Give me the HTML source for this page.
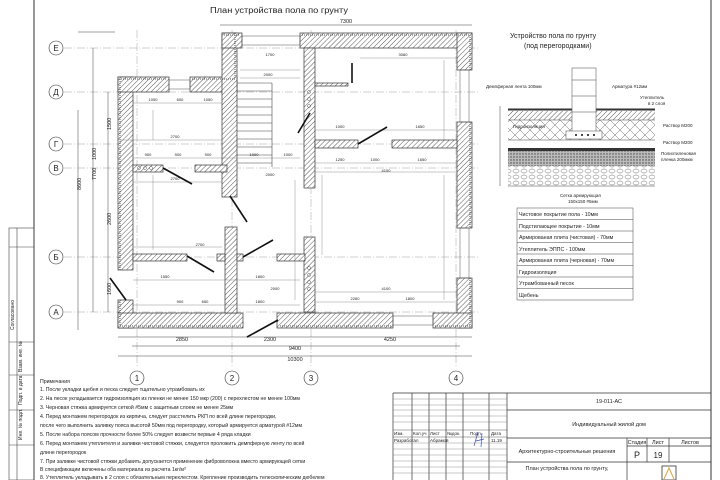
<!DOCTYPE html>
<html><head><meta charset="utf-8"><style>
html,body{margin:0;padding:0;background:#fff}
svg{display:block}
text{font-family:"Liberation Sans",sans-serif;fill:#222}
</style></head><body>
<svg width="720" height="480" viewBox="0 0 720 480" xmlns="http://www.w3.org/2000/svg">
<defs>
<pattern id="h" width="3.5" height="3.5" patternUnits="userSpaceOnUse" patternTransform="rotate(45)">
<rect width="3.5" height="3.5" fill="#fff"/><line x1="0" y1="0" x2="0" y2="3.5" stroke="#444" stroke-width="0.9"/></pattern>
<pattern id="x" width="10" height="10" patternUnits="userSpaceOnUse">
<rect width="10" height="10" fill="#fff"/><path d="M0 0L10 10M10 0L0 10" stroke="#666" stroke-width="0.5"/></pattern>
<pattern id="s" width="3" height="3" patternUnits="userSpaceOnUse">
<rect width="3" height="3" fill="#bbb"/><circle cx="1" cy="1" r="0.7" fill="#444"/></pattern>
<pattern id="g" width="8" height="6" patternUnits="userSpaceOnUse">
<rect width="8" height="6" fill="#fff"/><ellipse cx="4" cy="3" rx="3" ry="2" fill="none" stroke="#666" stroke-width="0.5"/></pattern>
</defs>
<rect width="720" height="480" fill="#fff"/>
<line x1="34" y1="0" x2="34" y2="480" stroke="#333" stroke-width="1"/>
<line x1="711" y1="0" x2="711" y2="480" stroke="#333" stroke-width="1"/>
<g stroke="#444" stroke-width="0.6" fill="none">
<rect x="9" y="228" width="25" height="252"/>
<line x1="17" y1="228" x2="17" y2="480"/>
<line x1="9" y1="247" x2="34" y2="247"/>
<line x1="9" y1="342" x2="34" y2="342"/>
<line x1="9" y1="375" x2="34" y2="375"/>
<line x1="9" y1="410" x2="34" y2="410"/>
<line x1="9" y1="445" x2="34" y2="445"/>
</g>
<text transform="translate(14,330) rotate(-90)" font-size="5">Согласовано</text>
<text transform="translate(22,372) rotate(-90)" font-size="5">Взам. инв. №</text>
<text transform="translate(22,405) rotate(-90)" font-size="5">Подп. и дата</text>
<text transform="translate(22,440) rotate(-90)" font-size="5">Инв. № подл.</text>

<text x="210" y="13" font-size="8" textLength="138" lengthAdjust="spacingAndGlyphs">План устройства пола по грунту</text>
<g stroke="#888" stroke-width="0.4" stroke-dasharray="8 2 1 2">
<line x1="64" y1="48" x2="480" y2="48"/><line x1="64" y1="92" x2="480" y2="92"/>
<line x1="64" y1="144" x2="480" y2="144"/><line x1="64" y1="168" x2="480" y2="168"/>
<line x1="64" y1="257" x2="480" y2="257"/><line x1="64" y1="312" x2="480" y2="312"/>
<line x1="137" y1="30" x2="137" y2="368"/><line x1="232" y1="30" x2="232" y2="368"/>
<line x1="311" y1="30" x2="311" y2="368"/><line x1="456" y1="30" x2="456" y2="368"/>
</g>
<g fill="#fff" stroke="#333" stroke-width="0.6">
<circle cx="56" cy="48" r="7"/><circle cx="56" cy="92" r="7"/><circle cx="56" cy="144" r="7"/>
<circle cx="56" cy="168" r="7"/><circle cx="56" cy="257" r="7"/><circle cx="56" cy="312" r="7"/>
<circle cx="137" cy="378" r="7"/><circle cx="232" cy="378" r="7"/><circle cx="311" cy="378" r="7"/><circle cx="456" cy="378" r="7"/>
</g>
<g font-size="8" text-anchor="middle">
<text x="56" y="51">Е</text><text x="56" y="95">Д</text><text x="56" y="147">Г</text>
<text x="56" y="171">В</text><text x="56" y="260">Б</text><text x="56" y="315">А</text>
<text x="137" y="381">1</text><text x="232" y="381">2</text><text x="311" y="381">3</text><text x="456" y="381">4</text>
</g>
<g stroke="#444" stroke-width="0.5">
<line x1="220" y1="25" x2="472" y2="25"/>
<line x1="78" y1="110" x2="78" y2="330"/><line x1="93" y1="48" x2="93" y2="312"/><line x1="108" y1="92" x2="108" y2="312"/>
<line x1="118" y1="337" x2="472" y2="337"/><line x1="132" y1="346" x2="460" y2="346"/><line x1="118" y1="356" x2="472" y2="356"/>
<line x1="78" y1="32" x2="115" y2="32"/>
</g>
<g font-size="5.5" text-anchor="middle">
<text x="346" y="23">7300</text><text x="182" y="341">2850</text><text x="270" y="341">2300</text><text x="390" y="341">4250</text>
<text x="295" y="350">9400</text><text x="295" y="361">10300</text>
</g>
<g font-size="5.5"><text transform="translate(81,190) rotate(-90)">8600</text><text transform="translate(96,180) rotate(-90)">7700</text>
<text transform="translate(96,160) rotate(-90)">1000</text><text transform="translate(111,130) rotate(-90)">1500</text>
<text transform="translate(111,225) rotate(-90)">2600</text><text transform="translate(111,295) rotate(-90)">1600</text></g>

<g fill="url(#h)" stroke="#333" stroke-width="0.7">
<rect x="118" y="77" width="15" height="193"/>
<rect x="118" y="77" width="51" height="15"/>
<rect x="190" y="77" width="47" height="15"/>
<rect x="222" y="33" width="15" height="164"/>
<rect x="222" y="33" width="20" height="15"/>
<rect x="300" y="33" width="172" height="15"/>
<rect x="457" y="33" width="15" height="37"/>
<rect x="457" y="122" width="15" height="106"/>
<rect x="457" y="278" width="15" height="50"/>
<rect x="304" y="48" width="11" height="140"/>
<rect x="304" y="237" width="11" height="75"/>
<rect x="315" y="140" width="43" height="8"/>
<rect x="392" y="140" width="65" height="8"/>
<rect x="118" y="300" width="15" height="28"/>
<rect x="118" y="313" width="125" height="15"/>
<rect x="277" y="313" width="116" height="15"/>
<rect x="433" y="313" width="39" height="15"/>
<rect x="225" y="227" width="12" height="86"/>
<rect x="133" y="165" width="30" height="7"/>
<rect x="195" y="165" width="32" height="7"/>
<rect x="133" y="254" width="54" height="7"/>
<rect x="217" y="254" width="8" height="7"/>
<rect x="237" y="254" width="6" height="7"/>
<rect x="277" y="254" width="28" height="7"/>
<rect x="315" y="83" width="33" height="3"/>
</g>
<g fill="none" stroke="#555" stroke-width="1" stroke-dasharray="1 1">
<path d="M120 270 V79 H167"/><path d="M192 79 H235 V33"/><path d="M302 35 H470 V70"/><path d="M470 122 V228"/><path d="M470 278 V326 H435"/>
<path d="M391 326 H279"/><path d="M241 326 H120 V302"/><path d="M224 35 H240"/>
</g>
<g fill="none" stroke="#555" stroke-width="0.5">
<rect x="169" y="80" width="21" height="9"/><rect x="242" y="36" width="58" height="9"/>
<rect x="460" y="70" width="9" height="52"/><rect x="460" y="228" width="9" height="50"/><rect x="393" y="316" width="40" height="9"/>
<circle cx="139" cy="168" r="1.5"/><circle cx="145" cy="168" r="1.5"/><circle cx="151" cy="168" r="1.5"/>
<circle cx="309" cy="92" r="1.5"/><circle cx="309" cy="99" r="1.5"/><circle cx="309" cy="106" r="1.5"/>
<circle cx="309" cy="268" r="1.5"/><circle cx="309" cy="275" r="1.5"/><circle cx="309" cy="282" r="1.5"/><circle cx="309" cy="289" r="1.5"/>
</g>
<g stroke="#444" stroke-width="0.6">
<line x1="237" y1="83" x2="272" y2="83"/><line x1="237" y1="91" x2="272" y2="91"/><line x1="237" y1="99" x2="272" y2="99"/>
<line x1="237" y1="107" x2="272" y2="107"/><line x1="237" y1="115" x2="272" y2="115"/><line x1="237" y1="123" x2="272" y2="123"/>
<line x1="237" y1="131" x2="272" y2="131"/><line x1="237" y1="139" x2="272" y2="139"/><line x1="237" y1="147" x2="272" y2="147"/>
<line x1="237" y1="155" x2="272" y2="155"/><line x1="237" y1="163" x2="272" y2="163"/><line x1="272" y1="83" x2="272" y2="167"/>
</g>
<g stroke="#777" stroke-width="0.4">
<line x1="133" y1="103" x2="222" y2="103"/><line x1="120" y1="140" x2="222" y2="140"/><line x1="133" y1="158" x2="300" y2="158"/>
<line x1="133" y1="182" x2="222" y2="182"/><line x1="133" y1="247" x2="222" y2="247"/><line x1="133" y1="280" x2="300" y2="280"/>
<line x1="133" y1="305" x2="300" y2="305"/><line x1="315" y1="172" x2="457" y2="172"/><line x1="315" y1="163" x2="457" y2="163"/>
<line x1="315" y1="292" x2="457" y2="292"/><line x1="315" y1="302" x2="457" y2="302"/><line x1="360" y1="58" x2="457" y2="58"/>
<line x1="153" y1="110" x2="153" y2="140"/><line x1="153" y1="175" x2="153" y2="250"/><line x1="444" y1="60" x2="444" y2="140"/>
<line x1="444" y1="175" x2="444" y2="300"/><line x1="322" y1="175" x2="322" y2="255"/><line x1="295" y1="180" x2="295" y2="300"/>
<line x1="240" y1="70" x2="300" y2="70"/><line x1="240" y1="78" x2="300" y2="78"/><line x1="315" y1="130" x2="457" y2="130"/>
</g>
<g font-size="4" fill="#333" text-anchor="middle">
<text x="153" y="101">1050</text><text x="180" y="101">600</text><text x="208" y="101">1050</text><text x="175" y="138">2700</text>
<text x="148" y="156">900</text><text x="178" y="156">900</text><text x="208" y="156">900</text><text x="254" y="156">1000</text><text x="288" y="156">1000</text>
<text x="175" y="180">2700</text><text x="200" y="246">2700</text><text x="165" y="278">1550</text><text x="260" y="278">1800</text>
<text x="275" y="290">2000</text><text x="180" y="303">900</text><text x="205" y="303">650</text><text x="260" y="303">1800</text>
<text x="270" y="176">2000</text><text x="386" y="172">4100</text><text x="340" y="161">1250</text><text x="375" y="161">1000</text><text x="422" y="161">1650</text>
<text x="386" y="290">4100</text><text x="355" y="300">2260</text><text x="410" y="300">1800</text><text x="403" y="56">3080</text>
<text x="270" y="56">1700</text><text x="268" y="76">2000</text><text x="340" y="128">1000</text><text x="420" y="128">1650</text>
</g>
<g stroke="#111" stroke-width="1.6">
<line x1="163" y1="168" x2="192" y2="184"/><line x1="230" y1="196" x2="247" y2="222"/><line x1="243" y1="257" x2="273" y2="240"/>
<line x1="187" y1="256" x2="214" y2="272"/><line x1="110" y1="278" x2="126" y2="300"/><line x1="247" y1="337" x2="278" y2="320"/>
<line x1="298" y1="133" x2="310" y2="113"/><line x1="358" y1="144" x2="387" y2="127"/><line x1="352" y1="63" x2="352" y2="83"/>
</g>

<text x="510" y="38" font-size="7">Устройство пола по грунту</text>
<text x="524" y="48" font-size="7">(под перегородками)</text>
<rect x="508" y="111" width="147" height="9" fill="url(#h)"/>
<rect x="508" y="120" width="147" height="20" fill="url(#x)"/>
<rect x="508" y="140" width="147" height="8" fill="#fff"/>
<rect x="508" y="148" width="147" height="3" fill="#333"/>
<rect x="508" y="151" width="147" height="15" fill="url(#s)"/>
<rect x="508" y="166" width="147" height="20" fill="url(#g)"/>
<line x1="508" y1="109.5" x2="655" y2="109.5" stroke="#333" stroke-width="2"/>
<g stroke="#444" stroke-width="0.5" fill="none"><line x1="508" y1="120" x2="655" y2="120"/><line x1="508" y1="140" x2="655" y2="140"/><line x1="508" y1="186" x2="655" y2="186"/>
<rect x="572" y="68" width="24" height="70" fill="#fff"/><line x1="572" y1="80" x2="596" y2="80"/><line x1="572" y1="96" x2="596" y2="96"/><line x1="572" y1="112" x2="596" y2="112"/>
<rect x="566" y="131" width="36" height="8" fill="#fff"/><line x1="500" y1="106" x2="500" y2="186"/></g>
<g fill="#111"><circle cx="576" cy="135" r="1"/><circle cx="582" cy="135" r="1"/><circle cx="588" cy="135" r="1"/><circle cx="594" cy="135" r="1"/></g>
<g font-size="4.5"><text x="486" y="88">Демпферная лента 100мм</text><text x="612" y="88">Арматура #12мм</text>
<text x="640" y="99">Утеплитель</text><text x="648" y="105">в 2 слоя</text><text x="663" y="127">Раствор М200</text>
<text x="663" y="144">Раствор М200</text><text x="661" y="155">Полиэтиленовая</text><text x="661" y="161">пленка 200мкм</text>
<text x="513" y="128">Гидроизоляция</text><text x="560" y="197">Сетка армирующая</text><text x="568" y="203">150х150 #5мм</text></g>
<g stroke="#444" stroke-width="0.5" fill="none">
<rect x="517" y="208" width="116" height="92"/>
<line x1="517" y1="219.5" x2="633" y2="219.5"/><line x1="517" y1="231" x2="633" y2="231"/><line x1="517" y1="242.5" x2="633" y2="242.5"/>
<line x1="517" y1="254" x2="633" y2="254"/><line x1="517" y1="265.5" x2="633" y2="265.5"/><line x1="517" y1="277" x2="633" y2="277"/><line x1="517" y1="288.5" x2="633" y2="288.5"/></g>
<g font-size="5.3"><text x="519" y="216">Чистовое покрытие пола - 10мм</text><text x="519" y="228">Подстилающее покрытие - 10мм</text>
<text x="519" y="239">Армированая плита (чистовая) - 70мм</text><text x="519" y="251">Утеплитель ЭППС - 100мм</text>
<text x="519" y="262">Армированая плита (черновая) - 70мм</text><text x="519" y="274">Гидроизоляция</text>
<text x="519" y="285">Утрамбованный песок</text><text x="519" y="297">Щебень</text></g>

<g font-size="5.2"><text x="40" y="383">Примечания</text>
<text x="40" y="391">1. После укладки щебня и песка следует тщательно утрамбовать их</text>
<text x="40" y="400">2. На песок укладывается гидроизоляция из пленки не менее 150 мкр (200) с перехлестом не менее 100мм</text>
<text x="40" y="409">3. Черновая стяжка армируется сеткой #5мм с защитным слоем не менее 25мм</text>
<text x="40" y="418">4. Перед монтажем перегородок из кирпича, следует расстелить РКП по всей длине перегородки,</text>
<text x="40" y="427">после чего выполнить заливку пояса высотой 50мм под перегородку, который армируется арматурой #12мм</text>
<text x="40" y="436">5. После набора поясом прочности более 50% следует возвести первые 4 ряда кладки</text>
<text x="40" y="445">6. Перед монтажем утеплителя и заливки чистовой стяжки, следуется проложить демпферную ленту по всей</text>
<text x="40" y="454">длине перегородок</text>
<text x="40" y="463">7. При заливке чистовой стяжки добавить допускается применение фиброволокна вместо армирующей сетки</text>
<text x="40" y="471">В спецификации включены оба материала из расчета 1кг/м³</text>
<text x="40" y="479">8. Утеплитель укладывать в 2 слоя с обязательным перехлестом. Крепление производить телескопическим дюбелем</text></g>

<g stroke="#333" stroke-width="0.7" fill="none">
<line x1="393" y1="393" x2="711" y2="393"/><line x1="393" y1="393" x2="393" y2="480"/>
<line x1="412" y1="393" x2="412" y2="480"/><line x1="429" y1="393" x2="429" y2="480"/><line x1="446" y1="393" x2="446" y2="480"/>
<line x1="463" y1="393" x2="463" y2="480"/><line x1="489" y1="393" x2="489" y2="480"/><line x1="507" y1="393" x2="507" y2="480"/>
<line x1="507" y1="410" x2="711" y2="410"/><line x1="507" y1="438" x2="711" y2="438"/><line x1="507" y1="462" x2="711" y2="462"/>
<line x1="627" y1="438" x2="627" y2="480"/><line x1="647" y1="438" x2="647" y2="462"/><line x1="669" y1="438" x2="669" y2="462"/>
<line x1="627" y1="446" x2="711" y2="446"/>
</g>
<g stroke="#777" stroke-width="0.4">
<line x1="393" y1="399" x2="507" y2="399"/><line x1="393" y1="405" x2="507" y2="405"/><line x1="393" y1="410" x2="507" y2="410"/>
<line x1="393" y1="416" x2="507" y2="416"/><line x1="393" y1="422" x2="507" y2="422"/><line x1="393" y1="430" x2="507" y2="430" stroke="#333"/>
<line x1="393" y1="437" x2="507" y2="437" stroke="#333"/><line x1="393" y1="443" x2="507" y2="443"/><line x1="393" y1="449" x2="507" y2="449"/>
<line x1="393" y1="455" x2="507" y2="455"/><line x1="393" y1="461" x2="507" y2="461"/><line x1="393" y1="467" x2="507" y2="467"/><line x1="393" y1="473" x2="507" y2="473"/>
</g>
<g font-size="4.5"><text x="394" y="435">Изм.</text><text x="413" y="435">Кол.уч</text><text x="430" y="435">Лист</text><text x="447" y="435">№док.</text>
<text x="470" y="435">Подп.</text><text x="491" y="435">Дата</text><text x="394" y="442">Разработал</text><text x="430" y="442">Абрамов</text><text x="491" y="442">11.19</text></g>
<path d="M474 446 L478 432 M476 441 L484 439 M482 433 L481 447" stroke="#3a4fb0" stroke-width="0.7" fill="none"/>
<g font-size="5.5" text-anchor="middle"><text x="609" y="403">19-011-АС</text><text x="609" y="426">Индивидуальный жилой дом</text>
<text x="567" y="453">Архитектурно-строительные решения</text><text x="567" y="470">План устройства пола по грунту,</text>
<text x="637" y="444">Стадия</text><text x="658" y="444">Лист</text><text x="690" y="444">Листов</text></g>
<text x="637" y="458" font-size="9" text-anchor="middle">Р</text><text x="658" y="458" font-size="8" text-anchor="middle">19</text>
<rect x="662" y="466" width="14" height="14" fill="none" stroke="#333" stroke-width="0.8"/>
<path d="M664 479 L669 468 L674 479" stroke="#d9a441" stroke-width="1" fill="none"/>
</svg>
</body></html>
